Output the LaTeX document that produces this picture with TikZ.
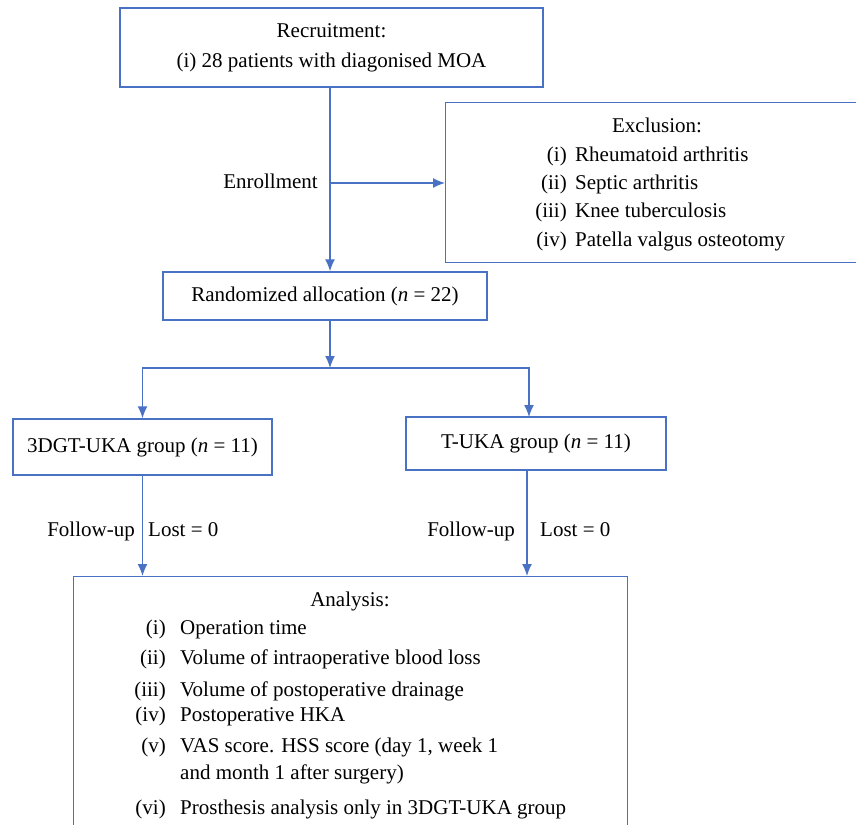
\documentclass[tikz,border=0pt]{standalone}
\usepackage{fontspec}
\setmainfont{Liberation Serif}
\usetikzlibrary{arrows.meta}
\definecolor{lineblue}{RGB}{74,114,196}
\tikzset{
  box/.style={draw=lineblue, line width=1.4pt, inner sep=0pt, font=\fontsize{21}{25}\selectfont},
  txt/.style={inner sep=0pt, font=\fontsize{21}{25}\selectfont},
  conn/.style={draw=lineblue, line width=1.4pt},
  arr/.style={conn, -{Latex[length=12pt,width=10pt]}}
}
\begin{document}
\begin{tikzpicture}[x=1pt,y=-1pt]
\useasboundingbox (0,0) rectangle (856,824);
% boxes
\node[box, minimum width=423, minimum height=79] (rec) at (331.5,47.5) {};
\node[txt, anchor=base] (rect1) at (331.5,38) {Recruitment:};
\node[txt, anchor=base] (rect2) at (331.5,68) {(i) 28 patients with diagonised MOA};

\node[box, anchor=north west, minimum width=440, minimum height=160] (excl) at (445,102) {};
\node[txt, anchor=base] (exct) at (657,132) {Exclusion:};
\node[txt, anchor=base east] (el1) at (567,161) {(i)};
\node[txt, anchor=base west] (et1) at (575,161) {Rheumatoid arthritis};
\node[txt, anchor=base east] (el2) at (567,189) {(ii)};
\node[txt, anchor=base west] (et2) at (575,189) {Septic arthritis};
\node[txt, anchor=base east] (el3) at (567,217) {(iii)};
\node[txt, anchor=base west] (et3) at (575,217) {Knee tuberculosis};
\node[txt, anchor=base east] (el4) at (567,246) {(iv)};
\node[txt, anchor=base west] (et4) at (575,246) {Patella valgus osteotomy};

\node[box, minimum width=324, minimum height=48] (rand) at (325,296) {Randomized allocation (\textit{n}~=~22)};

\node[box, minimum width=259, minimum height=56] (g1) at (142.5,447) {3DGT-UKA group (\textit{n}~=~11)};
\node[box, minimum width=260, minimum height=53] (g2) at (536,443.5) {T-UKA group (\textit{n}~=~11)};

\node[box, anchor=north west, minimum width=554, minimum height=270] (ana) at (73,576) {};
\node[txt, anchor=base] (anat) at (350,606) {Analysis:};
\node[txt, anchor=base east] (al1) at (166,634) {(i)};
\node[txt, anchor=base west] (at1) at (180,634) {Operation time};
\node[txt, anchor=base east] (al2) at (166,664) {(ii)};
\node[txt, anchor=base west] (at2) at (180,664) {Volume of intraoperative blood loss};
\node[txt, anchor=base east] (al3) at (166,696) {(iii)};
\node[txt, anchor=base west] (at3) at (180,696) {Volume of postoperative drainage};
\node[txt, anchor=base east] (al4) at (166,721) {(iv)};
\node[txt, anchor=base west] (at4) at (180,721) {Postoperative HKA};
\node[txt, anchor=base east] (al5) at (166,752) {(v)};
\node[txt, anchor=base west] (at5) at (180,752) {VAS score. HSS score (day 1, week 1};
\node[txt, anchor=base west] (at5b) at (180,779) {and month 1 after surgery)};
\node[txt, anchor=base east] (al6) at (166,814) {(vi)};
\node[txt, anchor=base west] (at6) at (180,814) {Prosthesis analysis only in 3DGT-UKA group};

% labels
\node[txt, anchor=base east] (enr) at (318,188) {Enrollment};
\node[txt, anchor=base east] (fu1) at (135,536) {Follow-up};
\node[txt, anchor=base west] (lo1) at (148,536) {Lost = 0};
\node[txt, anchor=base east] (fu2) at (515,536) {Follow-up};
\node[txt, anchor=base west] (lo2) at (540,536) {Lost = 0};

% connectors
\coordinate (top) at (330,87);
\coordinate (en) at (330,183);
\coordinate (sp) at (330,368);
\coordinate (g2t) at (529,417);
\coordinate (g2b) at (527,470);
\draw[arr] (top) -- (top |- rand.north);
\draw[arr] (en) -- (en -| excl.west);
\draw[arr] (rand.south -| sp) -- (sp);
\draw[arr] (sp) -| (g1.north);
\draw[arr] (sp) -| (g2t);
\draw[arr] (g1.south) -- (g1.south |- ana.north);
\draw[arr] (g2b) -- (g2b |- ana.north);
\end{tikzpicture}
\end{document}
